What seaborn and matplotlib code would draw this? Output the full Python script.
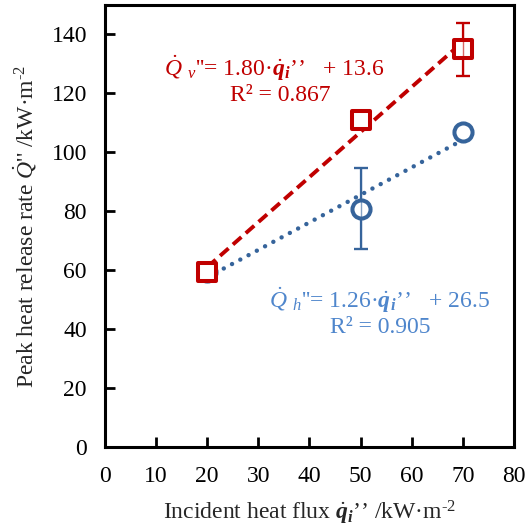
import matplotlib
matplotlib.use("Agg")
import matplotlib.pyplot as plt
import seaborn as sns
import numpy as np
import pandas as pd

# Data
flux = [20, 50, 70]
q_vertical = [59.5, 111.0, 135.0]
q_vertical_err = [0.0, 0.0, 9.0]
q_horizontal = [59.5, 81.0, 107.0]
q_horizontal_err = [0.0, 13.7, 0.0]
x_ticks = [0, 10, 20, 30, 40, 50, 60, 70, 80]
y_ticks = [0, 20, 40, 60, 80, 100, 120, 140]

sns.set_theme(style="white")
plt.rcParams['font.family'] = ['Liberation Serif', 'DejaVu Serif']
plt.rcParams['mathtext.fontset'] = 'custom'
plt.rcParams['mathtext.rm'] = 'Liberation Serif'
plt.rcParams['mathtext.it'] = 'Liberation Serif:italic'
plt.rcParams['mathtext.bf'] = 'Liberation Serif:bold'
plt.rcParams['mathtext.bfit'] = 'Liberation Serif:bold:italic'

RED = '#C00000'
BLUE_M = '#36649B'
BLUE_T = '#4F86CC'
FS = 17

df_v = pd.DataFrame({'x': flux, 'y': q_vertical, 'err': q_vertical_err})
df_h = pd.DataFrame({'x': flux, 'y': q_horizontal, 'err': q_horizontal_err})

fig = plt.figure(figsize=(5.29, 5.30), dpi=100)
ax = fig.add_axes([0.1985, 0.1557, 0.773, 0.835])

sns.regplot(data=df_v, x='x', y='y', ax=ax, ci=None, scatter=False, truncate=True,
            line_kws=dict(color=RED, lw=2.8, ls=(0, (2.9, 1.5)), zorder=2))
sns.regplot(data=df_h, x='x', y='y', ax=ax, ci=None, scatter=False, truncate=True,
            line_kws=dict(color=BLUE_M, lw=3.2, ls=(0, (0.01, 2.1)),
                          dash_capstyle='round', zorder=2))

# error bars only where an error is given
for df, col, z in [(df_h, BLUE_M, 3), (df_v, RED, 4)]:
    e = df[df['err'] > 0]
    ax.errorbar(e['x'], e['y'], yerr=e['err'], fmt='none', ecolor=col,
                elinewidth=1.6, capsize=5, capthick=1.6, zorder=z)

sns.scatterplot(data=df_h, x='x', y='y', ax=ax, marker='o', s=170, facecolor='white',
                edgecolor=BLUE_M, linewidth=2.9, zorder=3)
sns.scatterplot(data=df_v, x='x', y='y', ax=ax, marker='s', s=175, facecolor='white',
                edgecolor=RED, linewidth=2.9, zorder=4)
# error bars drawn again, faintly, over the markers (Excel style)
for df, col, z in [(df_h, BLUE_M, 5), (df_v, RED, 5)]:
    e = df[df['err'] > 0]
    ax.errorbar(e['x'], e['y'], yerr=e['err'], fmt='none', ecolor=col,
                elinewidth=1.0, capsize=5, capthick=1.6, zorder=z, alpha=0.6)

ax.set_xlim(0, 80)
ax.set_ylim(0, 150)
ax.set_xticks(x_ticks)
ax.set_yticks(y_ticks)
ax.tick_params(direction='in', length=7, width=2, labelsize=FS, colors='black',
               bottom=True, left=True, pad=13)
for s in ax.spines.values():
    s.set_visible(True)
    s.set_color('black')
    s.set_linewidth(2.2)

ax.set_xlabel(r"Incident heat flux $\dot{\mathbfit{q}}_{\mathbfit{i}}$’’ /kW·m$^{\text{-2}}$",
              fontsize=FS, labelpad=9)
ax.set_ylabel(r"Peak heat release rate $\dot{Q}$'' /kW·m$^{\text{-2}}$", fontsize=FS,
              labelpad=9)
ax.grid(False)

ax.text(0.144, 0.857,
        r"$\dot{Q}_{\ \,v}$''= 1.80·$\dot{\mathbfit{q}}_{\mathbfit{i}}$’’   + 13.6",
        transform=ax.transAxes, color=RED, fontsize=FS, ha='left', va='center')
ax.text(0.305, 0.796, "R² = 0.867", transform=ax.transAxes, color=RED, fontsize=FS,
        ha='left', va='center')
ax.text(0.40, 0.333,
        r"$\dot{Q}_{\ \,h}$''= 1.26·$\dot{\mathbfit{q}}_{\mathbfit{i}}$’’   + 26.5",
        transform=ax.transAxes, color=BLUE_T, fontsize=FS, ha='left', va='center')
ax.text(0.549, 0.271, "R² = 0.905", transform=ax.transAxes, color=BLUE_T, fontsize=FS,
        ha='left', va='center')

fig.savefig("out.png", dpi=100)
